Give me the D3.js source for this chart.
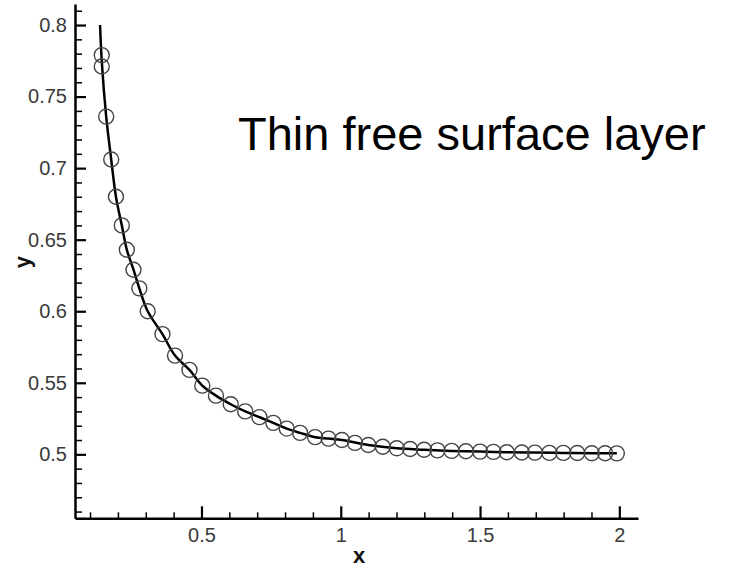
<!DOCTYPE html>
<html>
<head>
<meta charset="utf-8">
<script src="https://cdn.jsdelivr.net/npm/d3@7"></script>
<style>
  html, body { margin: 0; padding: 0; background: #fff; }
  svg { display: block; font-family: "Liberation Sans", Arial, sans-serif; }
</style>
</head>
<body>
<div id="chart"></div>
<script>

// --------------------------------------
//  Data
// --------------------------------------

const pointX = [0.142, 0.142, 0.158, 0.176, 0.193, 0.214, 0.232, 0.256, 0.277,
  0.307, 0.360, 0.405, 0.457, 0.503, 0.552, 0.605, 0.657, 0.708, 0.758, 0.806,
  0.854, 0.908, 0.956, 1.004, 1.051, 1.099, 1.151, 1.201, 1.249, 1.299, 1.347,
  1.398, 1.449, 1.500, 1.548, 1.596, 1.650, 1.697, 1.749, 1.799, 1.849, 1.901,
  1.949, 1.991];

const pointY = [0.779, 0.771, 0.736, 0.706, 0.680, 0.660, 0.643, 0.629, 0.616,
  0.600, 0.584, 0.569, 0.559, 0.548, 0.541, 0.535, 0.530, 0.526, 0.522, 0.518,
  0.515, 0.512, 0.511, 0.510, 0.508, 0.5065, 0.5053, 0.5042, 0.5037, 0.5032,
  0.5028, 0.5024, 0.5022, 0.5019, 0.5017, 0.5015, 0.5013, 0.5012, 0.5010,
  0.5010, 0.5009, 0.5008, 0.5008, 0.5007];

const lineX = [0.136, 0.142, 0.158, 0.176, 0.193, 0.214, 0.232, 0.256, 0.277,
  0.307, 0.360, 0.405, 0.457, 0.503, 0.552, 0.605, 0.657, 0.708, 0.758, 0.806,
  0.854, 0.908, 0.956, 1.004, 1.099, 1.201, 1.299, 1.398, 1.500, 1.596, 1.697,
  1.799, 1.901, 1.991];

const lineY = [0.800, 0.775, 0.736, 0.706, 0.680, 0.660, 0.643, 0.629, 0.616,
  0.600, 0.584, 0.569, 0.559, 0.548, 0.541, 0.535, 0.530, 0.526, 0.522, 0.518,
  0.515, 0.512, 0.511, 0.510, 0.5065, 0.5042, 0.5032, 0.5024, 0.5019, 0.5015,
  0.5012, 0.5010, 0.5008, 0.5007];

const xMajorTicks = [0.5, 1, 1.5, 2];
const xTickLabels = ["0.5", "1", "1.5", "2"];
const xMinorTicks = [0.1, 0.2, 0.3, 0.4, 0.6, 0.7, 0.8, 0.9, 1.1, 1.2, 1.3,
  1.4, 1.6, 1.7, 1.8, 1.9];

const yMajorTicks = [0.5, 0.55, 0.6, 0.65, 0.7, 0.75, 0.8];
const yTickLabels = ["0.5", "0.55", "0.6", "0.65", "0.7", "0.75", "0.8"];
const yMinorTicks = [0.46, 0.47, 0.48, 0.49, 0.51, 0.52, 0.53, 0.54, 0.56,
  0.57, 0.58, 0.59, 0.61, 0.62, 0.63, 0.64, 0.66, 0.67, 0.68, 0.69, 0.71,
  0.72, 0.73, 0.74, 0.76, 0.77, 0.78, 0.79, 0.81];

const xDomain = [0.046, 2.067];
const yDomain = [0.4553, 0.8147];

const annotation = "Thin free surface layer";

// --------------------------------------
//  Canvas
// --------------------------------------

const width = 731;
const height = 570;

const svg = d3.select("#chart")
  .append("svg")
    .attr("width", width)
    .attr("height", height)
    .attr("viewBox", [0, 0, width, height]);

svg.append("rect")
  .attr("width", width)
  .attr("height", height)
  .attr("fill", "#fff");

// --------------------------------------
//  Scales
// --------------------------------------

const x = d3.scaleLinear()
  .domain(xDomain)
  .range([75, 638]);

const y = d3.scaleLinear()
  .domain(yDomain)
  .range([518.3, 4]);

// --------------------------------------
//  Axes
// --------------------------------------

const xAxis = svg.append("g")
  .attr("transform", `translate(0, ${y.range()[0]})`)
  .call(d3.axisBottom(x)
    .tickValues(xMajorTicks)
    .tickFormat((d, i) => xTickLabels[i])
    .tickSizeInner(-12)
    .tickSizeOuter(0)
    .tickPadding(10));

svg.append("g")
  .attr("transform", `translate(0, ${y.range()[0]})`)
  .call(d3.axisBottom(x)
    .tickValues(xMinorTicks)
    .tickFormat("")
    .tickSizeInner(-6)
    .tickSizeOuter(0))
  .call(g => g.select(".domain").remove())
  .selectAll("line")
    .attr("stroke-width", 1.5);

const yAxis = svg.append("g")
  .attr("transform", `translate(${x.range()[0]}, 0)`)
  .call(d3.axisLeft(y)
    .tickValues(yMajorTicks)
    .tickFormat((d, i) => yTickLabels[i])
    .tickSizeInner(-11)
    .tickSizeOuter(0)
    .tickPadding(8));

svg.append("g")
  .attr("transform", `translate(${x.range()[0]}, 0)`)
  .call(d3.axisLeft(y)
    .tickValues(yMinorTicks)
    .tickFormat("")
    .tickSizeInner(-7)
    .tickSizeOuter(0))
  .call(g => g.select(".domain").remove())
  .selectAll("line")
    .attr("stroke-width", 1.5);

[xAxis, yAxis].forEach(g => {
  g.select(".domain")
    .attr("stroke", "#000")
    .attr("stroke-width", 2.5);
  g.selectAll(".tick line")
    .attr("stroke", "#000")
    .attr("stroke-width", 2.2);
  g.selectAll(".tick text")
    .attr("fill", "#3a3a3a")
    .attr("font-size", 20)
    .attr("font-family", "'Liberation Sans', Arial, sans-serif");
});

svg.append("text")
  .attr("x", 359)
  .attr("y", 563)
  .attr("text-anchor", "middle")
  .attr("font-size", 22)
  .attr("font-weight", "bold")
  .attr("fill", "#111")
  .text("x");

svg.append("text")
  .attr("transform", "translate(30, 262) rotate(-90)")
  .attr("text-anchor", "middle")
  .attr("font-size", 22)
  .attr("font-weight", "bold")
  .attr("fill", "#111")
  .text("y");

// --------------------------------------
//  data drawing
// --------------------------------------

const lineData = lineX.map((d, i) => ({ x: d, y: lineY[i] }));
const pointData = pointX.map((d, i) => ({ x: d, y: pointY[i] }));

svg.append("path")
  .datum(lineData)
  .attr("fill", "none")
  .attr("stroke", "#000")
  .attr("stroke-width", 2.5)
  .attr("d", d3.line()
    .x(d => x(d.x))
    .y(d => y(d.y))
    .curve(d3.curveCatmullRom));

svg.selectAll(".point")
  .data(pointData)
  .join("circle")
  .attr("class", "point")
  .attr("cx", d => x(d.x))
  .attr("cy", d => y(d.y))
  .attr("r", 7.5)
  .attr("fill", "none")
  .attr("stroke", "#444")
  .attr("stroke-width", 1.4);

// --------------------------------------
//  annotation
// --------------------------------------

svg.append("text")
  .attr("x", 238)
  .attr("y", 150)
  .attr("font-size", 47)
  .attr("fill", "#000")
  .text(annotation);

</script>
</body>
</html>
